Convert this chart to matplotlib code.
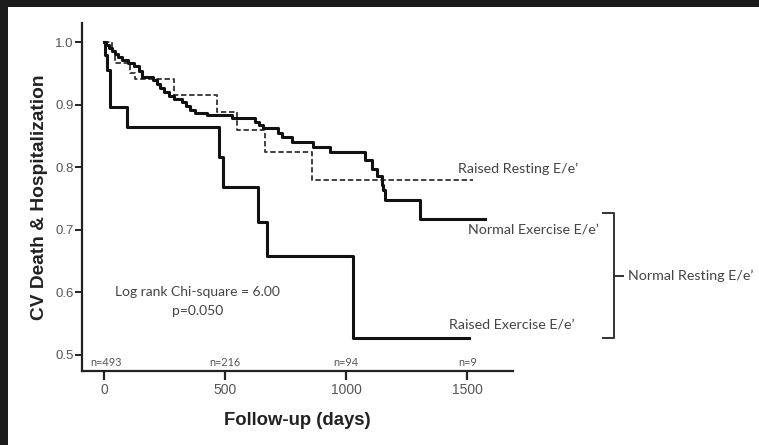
import matplotlib
matplotlib.use("Agg")
import matplotlib.pyplot as plt
from matplotlib.patches import Rectangle

# Kaplan-Meier step data (days, survival)
normal_ex_t = [0, 8, 21, 33, 45, 58, 74, 99, 124, 145, 157, 202, 219, 231, 248, 268, 289, 322, 339,
               355, 376, 425, 528, 623, 640, 656, 718, 735, 776, 863, 933, 1078, 1105, 1126, 1147,
               1153, 1160, 1305, 1573]
normal_ex_s = [1.0, 0.995, 0.990, 0.986, 0.981, 0.976, 0.971, 0.966, 0.962, 0.954, 0.944, 0.939, 0.933,
               0.927, 0.920, 0.914, 0.909, 0.904, 0.898, 0.891, 0.887, 0.883, 0.879, 0.872, 0.867,
               0.863, 0.855, 0.848, 0.840, 0.832, 0.824, 0.812, 0.797, 0.786, 0.772, 0.764, 0.748,
               0.718, 0.718]

raised_ex_t = [0, 2, 13, 25, 95, 474, 491, 635, 672, 1030, 1509]
raised_ex_s = [1.0, 0.979, 0.955, 0.896, 0.864, 0.816, 0.768, 0.712, 0.658, 0.527, 0.527]

raised_rest_t = [0, 33, 45, 107, 128, 289, 466, 549, 665, 859, 1524]
raised_rest_s = [1.0, 0.985, 0.966, 0.950, 0.941, 0.915, 0.888, 0.859, 0.824, 0.780, 0.780]

xticks = [0, 500, 1000, 1500]
yticks = [0.5, 0.6, 0.7, 0.8, 0.9, 1.0]
at_risk = ["n=493", "n=216", "n=94", "n=9"]
at_risk_x = [8, 500, 1000, 1500]

lab_font = "Liberation Sans"
ann_font = "Lato"
dark = "#222222"
grey = "#555555"
txt = "#444444"

fig = plt.figure(figsize=(7.59, 4.45), dpi=100)
fig.patch.set_facecolor("#1c1c1c")
fig.patches.append(Rectangle((8 / 759, 0), 1, 1 - 7 / 445, transform=fig.transFigure,
                             facecolor="white", edgecolor="none", zorder=-10))

ax = fig.add_axes([82 / 759, 1 - 371 / 445, (513 - 82) / 759, (371 - 23) / 445])
ax.set_facecolor("none")

ax.step(raised_rest_t, raised_rest_s, where="post", color="#333333", lw=1.3,
        dashes=(3, 1.5), zorder=2)
ax.step(normal_ex_t, normal_ex_s, where="post", color="#111111", lw=2.2, zorder=3)
ax.step(raised_ex_t, raised_ex_s, where="post", color="#111111", lw=2.2, zorder=3)

ax.set_xlim(-91, 1689)
ax.set_ylim(0.4744, 1.0304)
ax.set_xticks(xticks)
ax.set_yticks(yticks)
ax.set_yticklabels(["%.1f" % v for v in yticks])

for s in ["top", "right"]:
    ax.spines[s].set_visible(False)
for s in ["left", "bottom"]:
    ax.spines[s].set_color(dark)
    ax.spines[s].set_linewidth(1.6)

ax.tick_params(axis="x", length=6.5, width=1.6, color=dark, labelsize=10,
               labelcolor=grey, pad=2)
ax.tick_params(axis="y", length=5, width=1.4, color=dark, labelsize=9.5,
               labelcolor=grey, pad=1)
for lbl in ax.get_xticklabels() + ax.get_yticklabels():
    lbl.set_family(lab_font)

ax.set_xlabel("Follow-up (days)", family=lab_font, fontsize=13.3, fontweight="bold",
              color=dark, labelpad=11)
ax.set_ylabel("CV Death & Hospitalization", family=lab_font, fontsize=13.8,
              fontweight="bold", color=dark, labelpad=5)

# numbers at risk
for x, t in zip(at_risk_x, at_risk):
    ax.text(x, 0.4877, t, family=ann_font, fontsize=7.8, color=grey, ha="center", va="center")

ax.text(385, 0.6, "Log rank Chi-square = 6.00", family=ann_font, fontsize=10, color=txt,
        ha="center", va="center")
ax.text(385, 0.571, "p=0.050", family=ann_font, fontsize=10, color=txt,
        ha="center", va="center")

ax.text(1462, 0.797, "Raised Resting E/e\u2019", family=ann_font, fontsize=10.3, color=txt,
        va="center", clip_on=False)
ax.text(1503, 0.700, "Normal Exercise E/e\u2019", family=ann_font, fontsize=10.3, color=txt,
        va="center", clip_on=False)
ax.text(1424, 0.548, "Raised Exercise E/e\u2019", family=ann_font, fontsize=10.3, color=txt,
        va="center", clip_on=False)

# bracket grouping the two exercise curves
bx = [2060, 2106, 2106, 2060]
by = [0.727, 0.727, 0.527, 0.527]
ax.plot(bx, by, color="#333333", lw=1.4, clip_on=False, solid_joinstyle="round")
ax.plot([2106, 2143], [0.626, 0.626], color="#333333", lw=1.4, clip_on=False)
ax.text(2163, 0.626, "Normal Resting E/e\u2019", family=ann_font, fontsize=10.3, color=txt,
        va="center", clip_on=False)

fig.savefig("out.png", dpi=100, facecolor=fig.get_facecolor())
